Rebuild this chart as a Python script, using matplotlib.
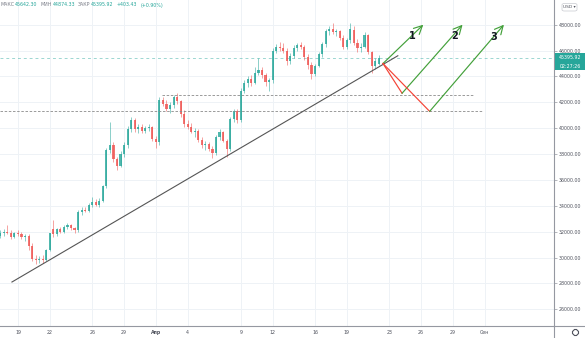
import matplotlib
matplotlib.use("Agg")
import matplotlib.pyplot as plt
from matplotlib.lines import Line2D
from matplotlib.patches import FancyBboxPatch

# 8-hour candles, first one starts 1.67 days before Mar 19
first_day = -1.67
opens = [31700, 31900, 32000, 31900, 31600, 31900, 31800, 31600, 31700, 30900,
         29900, 29800, 29900, 29800, 30600, 32200, 31800, 32200, 32000, 32400,
         32500, 32300, 32100, 33500, 33700, 33600, 34100, 34300, 34100, 34400,
         35500, 38300, 38700, 37600, 37100, 38000, 38700, 39900, 40600, 39900,
         40100, 39800, 40000, 40100, 39200, 38900, 42200, 41900, 41500, 41800,
         42400, 42100, 41100, 40300, 40100, 39700, 39800, 39100, 38700, 38800,
         38400, 38100, 39300, 39700, 39000, 38400, 40700, 41300, 40600, 42900,
         43500, 43800, 43500, 44300, 44500, 44100, 43600, 43700, 46000, 46300,
         46200, 46000, 45200, 45600, 46200, 46400, 46300, 45500, 44900, 44200,
         44800, 45700, 46500, 47500, 47700, 47400, 47500, 47000, 46300, 46800,
         47600, 46600, 46200, 46300, 47200, 45900, 44800, 44992.49]
highs = [32100, 32200, 32500, 32100, 32000, 32100, 32000, 31800, 31800, 31100,
         30200, 30100, 30200, 30700, 31900, 32900, 32300, 32400, 32500, 32700,
         32600, 32400, 33700, 33900, 33900, 34200, 34700, 34500, 34600, 35600,
         38500, 40500, 38900, 37800, 38200, 38900, 40200, 40900, 40800, 40300,
         40300, 40200, 40300, 40200, 39400, 42400, 42400, 42200, 42000, 42600,
         42700, 42200, 41400, 40600, 40400, 40000, 39900, 39300, 39000, 38900,
         38600, 39500, 39900, 39800, 39200, 40900, 41500, 41500, 43100, 43700,
         44000, 44100, 44700, 45400, 44700, 44300, 43900, 46200, 46500, 46700,
         46600, 46200, 45800, 46400, 46600, 46700, 46400, 45700, 45100, 45000,
         45900, 46700, 47700, 47900, 48100, 47700, 47600, 47200, 47000, 48100,
         47900, 46900, 46600, 47400, 47300, 46000, 45400, 45642.30]
lows = [31500, 31700, 31800, 31400, 31500, 31700, 31400, 31300, 30600, 29700,
        29500, 29600, 29600, 29700, 30500, 31600, 31700, 31900, 31900, 32200,
        32100, 31900, 32000, 33300, 33500, 33500, 33900, 34000, 33900, 34300,
        35400, 38100, 37400, 36800, 37000, 37800, 38500, 39700, 39700, 39600,
        39600, 39600, 39800, 39000, 38500, 38700, 41700, 41300, 41200, 41600,
        41900, 40900, 40100, 39900, 39600, 39300, 38900, 38500, 38300, 38200,
        37700, 37900, 39100, 38900, 37800, 38200, 40500, 40400, 40500, 42700,
        43200, 43300, 43400, 44100, 43900, 43300, 42900, 43500, 45800, 46000,
        45800, 44900, 45000, 45400, 46000, 46100, 45300, 44600, 43800, 44000,
        44700, 45500, 46300, 47200, 47300, 47100, 46800, 46100, 46100, 46600,
        46400, 45900, 45900, 46200, 45700, 44300, 44600, 44874.33]
closes = [31900, 32000, 31900, 31600, 31900, 31800, 31600, 31700, 30900, 29900,
          29800, 29900, 29800, 30600, 31900, 31800, 32200, 32000, 32400, 32500,
          32300, 32100, 33500, 33700, 33600, 34100, 34300, 34100, 34400, 35500,
          38300, 38700, 37600, 37100, 38000, 38700, 39900, 40600, 39900, 40100,
          39800, 40000, 40100, 39200, 38900, 42200, 41900, 41500, 41800, 42400,
          42100, 41100, 40300, 40100, 39700, 39800, 39100, 38700, 38800, 38400,
          38100, 39300, 39700, 39000, 38400, 40700, 41300, 40600, 42900, 43500,
          43800, 43500, 44300, 44500, 44100, 43600, 43700, 46000, 46300, 46200,
          46000, 45200, 45600, 46200, 46400, 46300, 45500, 44900, 44200, 44800,
          45700, 46500, 47500, 47700, 47400, 47500, 47000, 46300, 46800, 47700,
          46600, 46200, 46300, 47200, 45900, 44800, 45200, 45395.92]

# x axis: days counted from Mar 19
tick_days = [0, 3, 7, 10, 13, 16, 21, 24, 28, 31, 35, 38, 41, 44]
tick_labels = ["19", "22", "26", "29", "Апр", "4", "9", "12", "16", "19",
               "23", "26", "29", "Сен"]
price_ticks = list(range(26000, 48001, 2000))

# drawings
trend_days = [-0.57, 35.8]
trend_prices = [28110, 45600]
level_hi, level_hi_days = 42600, [13.57, 42.9]
level_lo, level_lo_days = 41300, [-1.7, 43.8]
start_pt = (34.4, 45000)
scenario_ends = [(38.2, 48000), (41.9, 48000), (45.8, 48000)]
scenario_dips = [None, (36.2, 42700), (38.8, 41300)]
scenario_labels = ["1", "2", "3"]
label_pos = [(37.2, 47150), (41.2, 47150), (44.8, 47050)]

last_close = 45395.92
countdown = "02:27:26"
header = [("МАКС", "45642.30"), ("МИН", "44874.33"), ("ЗАКР", "45395.92"),
          ("", "+403.43"), ("", "(+0.90%)")]

UP, DOWN = "#26a69a", "#ef5350"
W, H = 585, 338

fig = plt.figure(figsize=(W / 100, H / 100), dpi=100)
ax = fig.add_axes([0, 12 / H, 554 / W, 326 / H])
ax.set_xlim(-1.696, 50.52)
ax.set_ylim(24710, 49910)

# grid
for d in tick_days:
    ax.axvline(d, color="#eef2f6", lw=0.7, zorder=0)
for p in price_ticks:
    ax.axhline(p, color="#eef2f6", lw=0.7, zorder=0)

# candles
t = [first_day + i / 3 for i in range(len(closes))]
for ti, o, h, l, c in zip(t, opens, highs, lows, closes):
    col = UP if c >= o else DOWN
    ax.vlines(ti, l, h, color=col, lw=0.5, alpha=0.75, zorder=2)
    ax.bar(ti, abs(c - o) or 20, bottom=min(o, c), width=0.2, color=col,
           alpha=0.8, lw=0, zorder=3)

# last price line
ax.axhline(last_close, color=UP, lw=0.7, ls=(0, (3, 3)), alpha=0.45, zorder=1)

# support levels and trend line
ax.plot(level_hi_days, [level_hi] * 2, color="#8a8a8a", lw=0.6, ls=(0, (3, 2)), zorder=4)
ax.plot(level_lo_days, [level_lo] * 2, color="#8a8a8a", lw=0.6, ls=(0, (3, 2)), zorder=4)
ax.plot(trend_days, trend_prices, color="#555555", lw=0.8, zorder=4)

# scenarios
arrow = dict(arrowstyle="->,head_length=0.6,head_width=0.3", color="#43a03a",
             lw=0.85, shrinkA=0, shrinkB=0)
for end, dip, lab, lp in zip(scenario_ends, scenario_dips, scenario_labels, label_pos):
    src = start_pt
    if dip is not None:
        ax.plot([start_pt[0], dip[0]], [start_pt[1], dip[1]], color="#f44336",
                lw=0.85, zorder=5)
        src = dip
    ax.annotate("", xy=end, xytext=src, arrowprops=arrow, zorder=5)
    ax.text(lp[0], lp[1], lab, fontsize=7, fontweight="bold", color="#131722",
            ha="center", va="center", zorder=6)

ax.set_xticks(tick_days)
ax.set_xticklabels(tick_labels)
ax.set_yticks(price_ticks)
ax.set_yticklabels([f"{p:.2f}" for p in price_ticks])
ax.yaxis.tick_right()
ax.tick_params(axis="y", length=2, width=0.5, color="#9598a1", pad=1.5,
               labelsize=3.4, labelcolor="#50535e")
ax.tick_params(axis="x", length=0, pad=3, labelsize=3.4, labelcolor="#50535e")
for lbl in ax.get_xticklabels():
    if lbl.get_text() == "Апр":
        lbl.set_fontweight("bold")
for side in ["top", "left"]:
    ax.spines[side].set_visible(False)
for side in ["right", "bottom"]:
    ax.spines[side].set_color("#9598a1")
    ax.spines[side].set_linewidth(0.8)

# axis frame extensions
fig.add_artist(Line2D([554 / W, 1], [12 / H, 12 / H], color="#9598a1", lw=0.8))
fig.add_artist(Line2D([554 / W, 554 / W], [0, 12 / H], color="#9598a1", lw=0.8))

# last price badge
fy = lambda py: 1 - py / H
fig.add_artist(FancyBboxPatch((555 / W, fy(70)), 30 / W, 17 / H,
                              boxstyle="square,pad=0", fc=UP, ec="none"))
fig.text(570 / W, fy(57.5), f"{last_close:.2f}", color="white", fontsize=3.4,
         ha="center", va="center")
fig.text(570 / W, fy(66), countdown, color="white", fontsize=3.4,
         ha="center", va="center")

# currency selector and settings icon
fig.add_artist(FancyBboxPatch((562 / W, fy(11)), 15 / W, 7.5 / H,
                              boxstyle="round,pad=0,rounding_size=0.004",
                              fc="white", ec="#c8cad0", lw=0.5))
fig.text(569.5 / W, fy(7.2), "USD ▾", color="#50535e", fontsize=3.2,
         ha="center", va="center")
fig.add_artist(Line2D([575 / W], [fy(332)], marker="8", ms=4, mfc="none",
                      mec="#50535e", mew=0.8))

# OHLC header, laid out piece by piece
renderer = fig.canvas.get_renderer()
px = 0.5
for name, val in header:
    for txt, col, gap in ((name, "#787b86", 0.6), (val, UP, 3.0)):
        if not txt:
            continue
        tx = fig.text(px / W, fy(5), txt, color=col, fontsize=3.4,
                      ha="left", va="center")
        px += tx.get_window_extent(renderer).width + gap

fig.savefig("out.png", dpi=100)
